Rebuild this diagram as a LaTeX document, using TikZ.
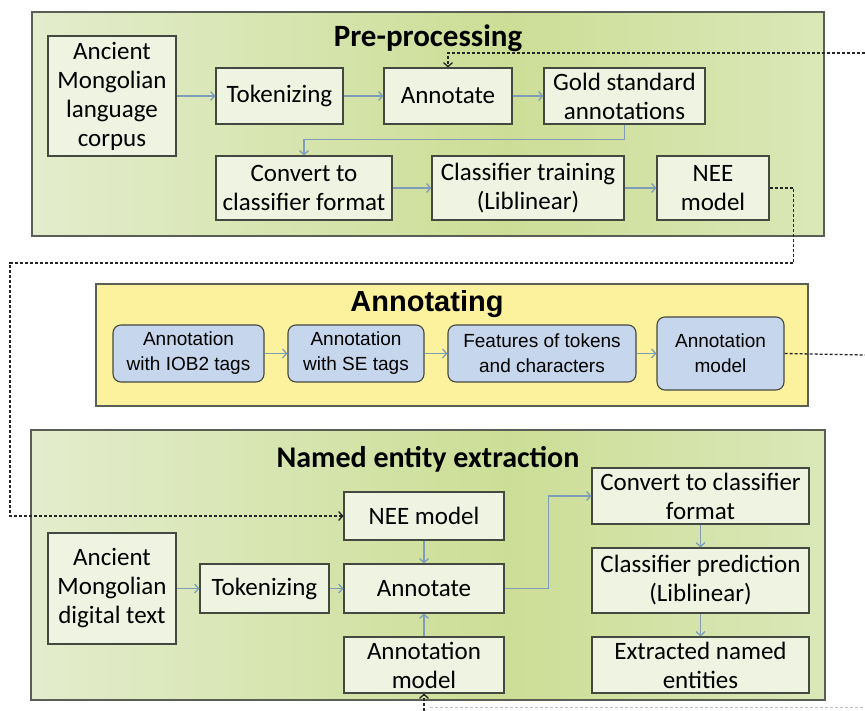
\documentclass[tikz,border=0pt]{standalone}
\usepackage{fontspec}
\setmainfont{Carlito}
\newfontfamily\arialfont{Liberation Sans}
\usetikzlibrary{arrows.meta, positioning}

\definecolor{panelline}{HTML}{5A5F55}
\definecolor{boxline}{HTML}{45483F}
\definecolor{boxfill}{HTML}{EEF3E2}
\definecolor{greenpale}{HTML}{E7EFD6}
\definecolor{greenmid}{HTML}{CCDE96}
\definecolor{yellowfill}{HTML}{FCF29E}
\definecolor{bluefill}{HTML}{C6D6EC}
\definecolor{arrowblue}{HTML}{7F9DB8}

\pgfdeclarehorizontalshading{panelshade}{100bp}{color(0bp)=(greenpale); color(20bp)=(greenpale);
  color(55bp)=(greenmid); color(85bp)=(greenpale!80!greenmid); color(100bp)=(greenpale)}

\begin{document}
\begin{tikzpicture}[
  x=1pt, y=-1pt,
  panel/.style = {draw=panelline, line width=1.4pt},
  greenpanel/.style = {panel, shading=panelshade},
  title/.style = {font=\bfseries\fontsize{31}{34}\selectfont},
  block/.style = {draw=boxline, fill=boxfill, line width=1.1pt, inner sep=0pt, align=center,
                  font=\fontsize{25}{29}\selectfont},
  tagbox/.style = {draw=boxline, fill=bluefill, line width=1.1pt, rounded corners=8pt, inner sep=0pt,
                   align=center, font=\arialfont\fontsize{19}{25}\selectfont},
  arr/.style = {draw=arrowblue, line width=1.3pt, -{Straight Barb[length=4pt, width=9pt]}},
  feedback/.style = {densely dashed, line width=1.3pt, black!85, -{Straight Barb[length=4pt, width=9pt]}}
  ]

  \useasboundingbox (0,0) rectangle (865,711);

    % Pre-processing
  \shade[greenpanel] (32,12) rectangle (824,236);
  \node[title] (pretitle) at (428,38) {Pre-processing};

  \node[block, minimum width=128pt, minimum height=120pt] (corpus) at (112,96) {Ancient\\Mongolian\\language\\corpus};
  \node[block, minimum width=127pt, minimum height=56pt] (tokpre) at (279.5,96) {Tokenizing};
  \node[block, minimum width=128pt, minimum height=56pt] (annpre) at (448,96) {Annotate};
  \node[block, minimum width=161pt, minimum height=56pt] (gold) at (624.5,96) {Gold standard\\annotations};
  \node[block, minimum width=176pt, minimum height=64pt] (convpre) at (304,188) {Convert to\\classifier format};
  \node[block, minimum width=192pt, minimum height=64pt] (train) at (528,188) {Classifier training\\(Liblinear)};
  \node[block, minimum width=112pt, minimum height=64pt] (neepre) at (713,188) {NEE\\model};

  \draw[arr] (corpus) -- (tokpre);
  \draw[arr] (tokpre) -- (annpre);
  \draw[arr] (annpre) -- (gold);
  \draw[arr] (gold.south) -- ++(0,15) -| (convpre.north);
  \draw[arr] (convpre) -- (train);
  \draw[arr] (train) -- (neepre);

    % Annotating
  \path[panel, fill=yellowfill] (96,284) rectangle (808,406);
  \node[title, font=\arialfont\bfseries\fontsize{29}{32}\selectfont] (anntitle) at (427,304) {Annotating};

  \node[tagbox, minimum width=151pt, minimum height=57pt] (iob) at (188.5,353.5) {Annotation\\with IOB2 tags};
  \node[tagbox, minimum width=136pt, minimum height=57pt] (se) at (356,353.5) {Annotation\\with SE tags};
  \node[tagbox, minimum width=188pt, minimum height=57pt] (feat) at (542,353.5) {Features of tokens\\and characters};
  \node[tagbox, minimum width=127pt, minimum height=73pt] (annmodel) at (720.5,353.5) {Annotation\\model};

  \draw[arr] (iob) -- (se);
  \draw[arr] (se) -- (feat);
  \draw[arr] (feat) -- (annmodel);

    % Named entity extraction
  \shade[greenpanel] (31,430) rectangle (825,700);
  \node[title, font=\bfseries\fontsize{30}{34}\selectfont] (neetitle) at (428,459) {Named entity extraction};

  \node[block, minimum width=160pt, minimum height=48pt] (neeext) at (424,516) {NEE model};
  \node[block, minimum width=128pt, minimum height=111pt] (digital) at (112,588.5) {Ancient\\Mongolian\\digital text};
  \node[block, minimum width=129pt, minimum height=49pt] (tokext) at (264.5,588.5) {Tokenizing};
  \node[block, minimum width=160pt, minimum height=49pt] (annext) at (424,588.5) {Annotate};
  \node[block, minimum width=160pt, minimum height=56pt] (modext) at (424,665) {Annotation\\model};
  \node[block, minimum width=217pt, minimum height=56pt] (convext) at (700.5,496) {Convert to classifier\\format};
  \node[block, minimum width=217pt, minimum height=65pt] (pred) at (700.5,580.5) {Classifier prediction\\(Liblinear)};
  \node[block, minimum width=217pt, minimum height=56pt] (extract) at (700.5,665) {Extracted named\\entities};

  \draw[arr] (digital) -- (tokext);
  \draw[arr] (tokext) -- (annext);
  \draw[arr] (neeext) -- (annext);
  \draw[arr] (modext) -- (annext);
  \draw[arr] (annext.east) -- ++(44,0) |- (convext.west);
  \draw[arr] (convext) -- (pred);
  \draw[arr] (pred) -- (extract);

    % dashed links
  \coordinate (inpre) at (865,53);
  \coordinate (outmodel) at (865,355);
  \coordinate (inmodel) at (424,711);
  \draw[feedback] (inpre) -| (annpre.north);
  \draw[feedback] (neepre.east) -- ++(24,0) |- (10,263) |- (neeext.west);
  \draw[feedback, -] (annmodel.east) -- (outmodel);
  \draw[feedback] (inmodel) -- (modext.south);
  \draw[densely dashed, line width=1pt, black!25] (430,707) -- (865,707);

\end{tikzpicture}
\end{document}
